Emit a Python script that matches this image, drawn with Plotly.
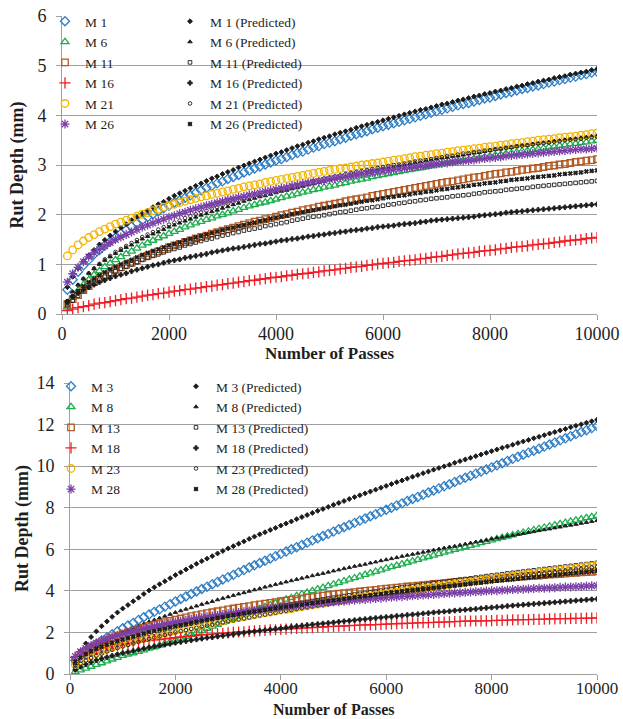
import plotly.graph_objects as go

passes = list(range(100, 10001, 100))

# ---------------- top chart (measured / predicted) ----------------
m1 = [0.49,0.69,0.85,0.98,1.09,1.20,1.29,1.38,1.46,1.54,
      1.62,1.69,1.76,1.83,1.89,1.95,2.01,2.07,2.13,2.18,
      2.24,2.29,2.34,2.39,2.44,2.49,2.54,2.58,2.63,2.67,
      2.72,2.76,2.80,2.85,2.89,2.93,2.97,3.01,3.05,3.09,
      3.12,3.16,3.20,3.24,3.27,3.31,3.35,3.38,3.42,3.45,
      3.48,3.52,3.55,3.59,3.62,3.65,3.68,3.72,3.75,3.78,
      3.81,3.84,3.87,3.90,3.93,3.96,3.99,4.02,4.05,4.08,
      4.11,4.14,4.17,4.20,4.23,4.25,4.28,4.31,4.34,4.36,
      4.39,4.42,4.45,4.47,4.50,4.53,4.55,4.58,4.60,4.63,
      4.66,4.68,4.71,4.73,4.76,4.78,4.81,4.83,4.86,4.88]
m1_p = [0.54,0.75,0.92,1.06,1.18,1.29,1.40,1.49,1.58,1.66,
        1.74,1.81,1.89,1.95,2.02,2.08,2.15,2.21,2.26,2.32,
        2.38,2.43,2.48,2.53,2.58,2.63,2.68,2.73,2.77,2.82,
        2.86,2.90,2.95,2.99,3.03,3.07,3.11,3.15,3.19,3.23,
        3.26,3.30,3.34,3.38,3.41,3.45,3.48,3.52,3.55,3.58,
        3.62,3.65,3.68,3.71,3.75,3.78,3.81,3.84,3.87,3.90,
        3.93,3.96,3.99,4.02,4.05,4.08,4.11,4.13,4.16,4.19,
        4.22,4.24,4.27,4.30,4.32,4.35,4.38,4.40,4.43,4.45,
        4.48,4.50,4.53,4.55,4.58,4.60,4.63,4.65,4.68,4.70,
        4.72,4.75,4.77,4.79,4.82,4.84,4.86,4.88,4.91,4.93]
m6 = [0.14,0.33,0.47,0.59,0.69,0.79,0.87,0.95,1.02,1.09,
      1.15,1.21,1.26,1.32,1.38,1.43,1.48,1.53,1.57,1.62,
      1.66,1.70,1.75,1.79,1.83,1.86,1.90,1.93,1.97,2.00,
      2.03,2.07,2.10,2.14,2.17,2.20,2.23,2.25,2.28,2.31,
      2.34,2.37,2.39,2.42,2.45,2.47,2.50,2.52,2.55,2.57,
      2.59,2.62,2.64,2.67,2.69,2.71,2.73,2.76,2.78,2.80,
      2.82,2.84,2.86,2.88,2.90,2.92,2.94,2.96,2.98,3.00,
      3.02,3.04,3.05,3.07,3.09,3.11,3.13,3.14,3.16,3.18,
      3.20,3.21,3.23,3.24,3.26,3.28,3.29,3.31,3.32,3.34,
      3.36,3.37,3.39,3.40,3.42,3.43,3.45,3.46,3.48,3.49]
m6_p = [0.26,0.45,0.59,0.71,0.82,0.91,1.00,1.08,1.15,1.22,
        1.28,1.34,1.39,1.45,1.51,1.56,1.61,1.65,1.70,1.75,
        1.79,1.83,1.87,1.91,1.95,1.99,2.02,2.06,2.09,2.13,
        2.16,2.20,2.23,2.27,2.30,2.33,2.36,2.38,2.41,2.44,
        2.47,2.49,2.52,2.54,2.57,2.60,2.62,2.65,2.67,2.70,
        2.72,2.74,2.77,2.79,2.81,2.83,2.85,2.88,2.90,2.92,
        2.94,2.96,2.98,3.00,3.02,3.04,3.06,3.08,3.10,3.12,
        3.14,3.15,3.17,3.18,3.20,3.22,3.24,3.25,3.27,3.29,
        3.31,3.32,3.34,3.35,3.37,3.39,3.40,3.42,3.43,3.45,
        3.46,3.48,3.49,3.51,3.52,3.53,3.55,3.56,3.58,3.59]
m11 = [0.20,0.30,0.38,0.48,0.56,0.64,0.71,0.77,0.83,0.89,
       0.94,0.99,1.03,1.08,1.13,1.17,1.21,1.26,1.30,1.34,
       1.38,1.41,1.45,1.48,1.52,1.55,1.58,1.62,1.65,1.68,
       1.71,1.74,1.77,1.80,1.83,1.86,1.88,1.91,1.93,1.96,
       1.99,2.01,2.04,2.06,2.09,2.11,2.13,2.16,2.18,2.20,
       2.22,2.24,2.27,2.29,2.31,2.33,2.35,2.38,2.40,2.42,
       2.44,2.46,2.48,2.50,2.52,2.54,2.56,2.58,2.60,2.62,
       2.64,2.66,2.67,2.69,2.71,2.73,2.75,2.76,2.78,2.80,
       2.82,2.83,2.85,2.86,2.88,2.90,2.91,2.93,2.94,2.96,
       2.98,2.99,3.01,3.02,3.04,3.06,3.07,3.09,3.10,3.12]
m11_p = [0.18,0.27,0.37,0.46,0.55,0.62,0.69,0.75,0.81,0.86,
         0.91,0.95,1.00,1.04,1.09,1.13,1.17,1.20,1.24,1.28,
         1.31,1.34,1.38,1.41,1.44,1.47,1.50,1.52,1.55,1.58,
         1.60,1.63,1.65,1.68,1.70,1.72,1.74,1.77,1.79,1.81,
         1.83,1.85,1.88,1.90,1.92,1.94,1.96,1.97,1.99,2.01,
         2.03,2.05,2.06,2.08,2.10,2.12,2.13,2.15,2.16,2.18,
         2.20,2.21,2.23,2.24,2.26,2.27,2.29,2.30,2.32,2.33,
         2.34,2.35,2.37,2.38,2.39,2.40,2.42,2.43,2.45,2.46,
         2.47,2.48,2.50,2.51,2.52,2.53,2.54,2.56,2.57,2.58,
         2.59,2.60,2.61,2.62,2.63,2.64,2.65,2.66,2.67,2.68]
m16 = [0.07,0.10,0.13,0.15,0.17,0.20,0.22,0.23,0.25,0.27,
       0.29,0.31,0.32,0.34,0.36,0.38,0.39,0.41,0.42,0.44,
       0.46,0.47,0.49,0.50,0.52,0.53,0.55,0.56,0.58,0.59,
       0.61,0.62,0.64,0.65,0.67,0.68,0.70,0.71,0.73,0.74,
       0.75,0.77,0.78,0.80,0.81,0.82,0.84,0.85,0.87,0.88,
       0.89,0.91,0.92,0.94,0.95,0.96,0.98,0.99,1.01,1.02,
       1.03,1.04,1.06,1.07,1.08,1.09,1.11,1.12,1.14,1.15,
       1.16,1.18,1.19,1.21,1.22,1.23,1.24,1.26,1.27,1.28,
       1.29,1.31,1.32,1.34,1.35,1.36,1.37,1.39,1.40,1.41,
       1.42,1.44,1.45,1.47,1.48,1.49,1.50,1.52,1.53,1.54]
m16_p = [0.25,0.35,0.42,0.49,0.54,0.59,0.64,0.68,0.72,0.76,
         0.79,0.82,0.86,0.89,0.92,0.95,0.98,1.00,1.03,1.06,
         1.08,1.10,1.13,1.15,1.17,1.19,1.21,1.24,1.26,1.28,
         1.30,1.32,1.33,1.35,1.37,1.39,1.41,1.42,1.44,1.46,
         1.48,1.49,1.51,1.52,1.54,1.56,1.57,1.59,1.60,1.62,
         1.63,1.65,1.66,1.68,1.69,1.70,1.72,1.73,1.75,1.76,
         1.77,1.78,1.80,1.81,1.82,1.83,1.85,1.86,1.88,1.89,
         1.90,1.91,1.92,1.93,1.94,1.95,1.96,1.98,1.99,2.00,
         2.01,2.02,2.04,2.05,2.06,2.07,2.08,2.09,2.10,2.11,
         2.12,2.13,2.14,2.15,2.16,2.17,2.18,2.19,2.20,2.21]
m21 = [1.17,1.29,1.39,1.47,1.54,1.60,1.66,1.71,1.76,1.81,
       1.85,1.89,1.93,1.97,2.01,2.04,2.08,2.11,2.15,2.18,
       2.21,2.24,2.27,2.30,2.33,2.36,2.38,2.41,2.43,2.46,
       2.48,2.51,2.53,2.56,2.58,2.60,2.62,2.65,2.67,2.69,
       2.71,2.73,2.75,2.77,2.79,2.81,2.83,2.85,2.87,2.89,
       2.91,2.93,2.94,2.96,2.98,3.00,3.01,3.03,3.04,3.06,
       3.08,3.10,3.11,3.13,3.15,3.17,3.18,3.20,3.21,3.23,
       3.24,3.26,3.27,3.29,3.30,3.31,3.33,3.34,3.36,3.37,
       3.38,3.40,3.41,3.43,3.44,3.45,3.47,3.48,3.50,3.51,
       3.52,3.53,3.55,3.56,3.57,3.58,3.60,3.61,3.63,3.64]
m21_p = [0.22,0.42,0.58,0.71,0.82,0.92,1.01,1.10,1.17,1.25,
         1.31,1.37,1.43,1.49,1.55,1.60,1.65,1.70,1.75,1.80,
         1.84,1.88,1.93,1.97,2.01,2.05,2.08,2.12,2.15,2.19,
         2.22,2.25,2.29,2.32,2.35,2.38,2.41,2.44,2.47,2.50,
         2.53,2.55,2.58,2.60,2.63,2.65,2.68,2.70,2.73,2.75,
         2.77,2.79,2.82,2.84,2.86,2.88,2.90,2.92,2.94,2.96,
         2.98,3.00,3.01,3.03,3.05,3.07,3.09,3.10,3.12,3.14,
         3.16,3.18,3.19,3.21,3.23,3.24,3.26,3.27,3.29,3.30,
         3.32,3.33,3.35,3.36,3.38,3.39,3.40,3.42,3.43,3.44,
         3.45,3.47,3.48,3.50,3.51,3.52,3.53,3.55,3.56,3.57]
m26 = [0.64,0.81,0.94,1.05,1.15,1.23,1.30,1.37,1.44,1.50,
       1.55,1.60,1.65,1.70,1.75,1.79,1.83,1.87,1.91,1.95,
       1.98,2.02,2.05,2.09,2.12,2.15,2.18,2.21,2.24,2.27,
       2.30,2.32,2.35,2.37,2.40,2.42,2.44,2.47,2.49,2.51,
       2.53,2.55,2.58,2.60,2.62,2.64,2.66,2.67,2.69,2.71,
       2.73,2.75,2.76,2.78,2.80,2.82,2.83,2.85,2.86,2.88,
       2.89,2.91,2.92,2.94,2.95,2.96,2.98,2.99,3.01,3.02,
       3.03,3.04,3.06,3.07,3.08,3.09,3.10,3.12,3.13,3.14,
       3.15,3.16,3.18,3.19,3.20,3.21,3.22,3.23,3.24,3.25,
       3.26,3.27,3.28,3.29,3.30,3.31,3.32,3.32,3.33,3.34]
m26_p = [0.25,0.35,0.46,0.56,0.64,0.71,0.78,0.84,0.90,0.95,
         1.00,1.05,1.09,1.14,1.19,1.23,1.27,1.30,1.34,1.38,
         1.41,1.44,1.48,1.51,1.54,1.57,1.60,1.63,1.66,1.69,
         1.72,1.74,1.77,1.79,1.82,1.84,1.87,1.89,1.92,1.94,
         1.96,1.98,2.01,2.03,2.05,2.07,2.09,2.11,2.13,2.15,
         2.17,2.19,2.20,2.22,2.24,2.26,2.28,2.29,2.31,2.33,
         2.35,2.36,2.38,2.39,2.41,2.43,2.44,2.46,2.47,2.49,
         2.51,2.52,2.54,2.55,2.57,2.58,2.60,2.61,2.63,2.64,
         2.65,2.67,2.68,2.70,2.71,2.72,2.73,2.75,2.76,2.77,
         2.78,2.79,2.81,2.82,2.83,2.84,2.85,2.87,2.88,2.89]

# ---------------- bottom chart ----------------
m3 = [0.66,0.90,1.10,1.28,1.45,1.61,1.76,1.91,2.06,2.20,
      2.33,2.46,2.60,2.73,2.86,2.99,3.11,3.24,3.36,3.49,
      3.61,3.73,3.85,3.97,4.09,4.20,4.32,4.43,4.55,4.66,
      4.77,4.89,5.00,5.12,5.23,5.34,5.45,5.56,5.67,5.78,
      5.89,6.00,6.10,6.21,6.32,6.43,6.53,6.64,6.74,6.85,
      6.96,7.06,7.17,7.27,7.38,7.48,7.59,7.69,7.80,7.90,
      8.00,8.11,8.21,8.32,8.42,8.52,8.62,8.73,8.83,8.93,
      9.03,9.13,9.24,9.34,9.44,9.54,9.64,9.74,9.84,9.94,
      10.04,10.14,10.25,10.35,10.45,10.55,10.65,10.74,10.84,10.94,
      11.04,11.14,11.24,11.34,11.44,11.54,11.64,11.73,11.83,11.93]
m3_p = [0.63,1.10,1.47,1.78,2.05,2.30,2.53,2.75,2.96,3.15,
        3.32,3.50,3.67,3.85,4.02,4.17,4.32,4.46,4.61,4.76,
        4.89,5.03,5.16,5.30,5.43,5.55,5.67,5.80,5.92,6.04,
        6.15,6.27,6.38,6.50,6.61,6.72,6.82,6.93,7.03,7.14,
        7.24,7.34,7.45,7.55,7.65,7.75,7.85,7.94,8.04,8.14,
        8.23,8.32,8.42,8.51,8.60,8.69,8.78,8.87,8.96,9.05,
        9.14,9.23,9.31,9.40,9.49,9.57,9.66,9.74,9.83,9.91,
        9.99,10.07,10.16,10.24,10.32,10.40,10.48,10.56,10.64,10.72,
        10.80,10.88,10.95,11.03,11.11,11.19,11.26,11.34,11.41,11.49,
        11.57,11.64,11.72,11.79,11.87,11.94,12.01,12.09,12.16,12.23]
m8 = [0.10,0.19,0.27,0.36,0.45,0.53,0.62,0.71,0.79,0.88,
      0.95,1.01,1.08,1.15,1.23,1.30,1.38,1.46,1.54,1.62,
      1.71,1.80,1.90,1.99,2.09,2.19,2.29,2.38,2.48,2.58,
      2.67,2.77,2.86,2.95,3.05,3.14,3.23,3.32,3.41,3.50,
      3.59,3.67,3.76,3.84,3.92,4.00,4.08,4.16,4.24,4.32,
      4.40,4.47,4.55,4.62,4.70,4.78,4.85,4.93,5.00,5.08,
      5.15,5.22,5.29,5.36,5.43,5.50,5.57,5.64,5.71,5.78,
      5.85,5.91,5.98,6.04,6.11,6.18,6.24,6.31,6.37,6.44,
      6.50,6.56,6.62,6.68,6.75,6.81,6.87,6.93,6.99,7.05,
      7.11,7.16,7.22,7.28,7.34,7.39,7.45,7.51,7.56,7.62]
m8_p = [0.50,0.78,1.00,1.18,1.34,1.49,1.63,1.76,1.88,2.00,
        2.10,2.20,2.31,2.41,2.51,2.60,2.69,2.78,2.87,2.96,
        3.04,3.12,3.19,3.27,3.35,3.42,3.49,3.57,3.64,3.71,
        3.78,3.85,3.91,3.98,4.05,4.11,4.18,4.24,4.31,4.37,
        4.43,4.49,4.55,4.61,4.67,4.73,4.79,4.84,4.90,4.96,
        5.01,5.07,5.12,5.18,5.23,5.28,5.34,5.39,5.45,5.50,
        5.55,5.60,5.66,5.71,5.76,5.81,5.86,5.91,5.96,6.01,
        6.06,6.11,6.15,6.20,6.25,6.30,6.35,6.39,6.44,6.49,
        6.54,6.58,6.63,6.67,6.72,6.76,6.81,6.85,6.90,6.94,
        6.98,7.03,7.07,7.12,7.16,7.20,7.25,7.29,7.34,7.38]
m13 = [0.68,0.93,1.12,1.28,1.41,1.53,1.65,1.75,1.84,1.93,
       2.01,2.08,2.16,2.23,2.31,2.37,2.43,2.50,2.56,2.62,
       2.67,2.72,2.78,2.83,2.88,2.93,2.97,3.02,3.06,3.11,
       3.15,3.19,3.23,3.27,3.31,3.35,3.39,3.42,3.46,3.50,
       3.53,3.57,3.60,3.64,3.67,3.70,3.73,3.77,3.80,3.83,
       3.86,3.89,3.91,3.94,3.97,4.00,4.02,4.05,4.08,4.11,
       4.13,4.16,4.18,4.21,4.23,4.25,4.28,4.30,4.33,4.35,
       4.37,4.39,4.42,4.44,4.46,4.48,4.50,4.53,4.55,4.57,
       4.59,4.61,4.63,4.65,4.67,4.69,4.71,4.72,4.74,4.76,
       4.78,4.80,4.81,4.83,4.85,4.87,4.89,4.90,4.92,4.94]
m13_p = [0.46,0.66,0.82,0.96,1.08,1.19,1.29,1.39,1.47,1.56,
         1.63,1.71,1.78,1.86,1.93,1.99,2.06,2.12,2.19,2.25,
         2.31,2.36,2.42,2.47,2.53,2.58,2.63,2.69,2.74,2.79,
         2.84,2.89,2.93,2.98,3.03,3.08,3.12,3.17,3.21,3.26,
         3.30,3.34,3.39,3.43,3.47,3.51,3.55,3.59,3.63,3.67,
         3.71,3.75,3.78,3.82,3.86,3.90,3.94,3.97,4.01,4.05,
         4.09,4.12,4.16,4.19,4.23,4.26,4.30,4.33,4.37,4.40,
         4.43,4.47,4.50,4.54,4.57,4.60,4.64,4.67,4.71,4.74,
         4.77,4.80,4.84,4.87,4.90,4.93,4.96,4.99,5.02,5.05,
         5.08,5.11,5.14,5.17,5.20,5.23,5.26,5.29,5.32,5.35]
m18 = [0.80,0.93,1.02,1.10,1.17,1.23,1.29,1.34,1.38,1.43,
       1.47,1.50,1.54,1.57,1.61,1.64,1.66,1.69,1.72,1.75,
       1.78,1.80,1.83,1.85,1.88,1.90,1.92,1.94,1.96,1.98,
       2.00,2.02,2.03,2.05,2.07,2.09,2.10,2.12,2.13,2.15,
       2.16,2.18,2.19,2.21,2.22,2.23,2.25,2.26,2.28,2.29,
       2.30,2.31,2.33,2.34,2.35,2.36,2.37,2.38,2.39,2.40,
       2.41,2.42,2.43,2.44,2.45,2.46,2.47,2.47,2.48,2.49,
       2.50,2.51,2.52,2.53,2.54,2.55,2.55,2.56,2.56,2.57,
       2.58,2.58,2.59,2.60,2.61,2.62,2.62,2.63,2.63,2.64,
       2.65,2.65,2.66,2.66,2.67,2.68,2.68,2.69,2.69,2.70]
m18_p = [0.20,0.35,0.47,0.57,0.66,0.74,0.81,0.88,0.95,1.01,
         1.06,1.11,1.17,1.22,1.27,1.32,1.36,1.41,1.45,1.50,
         1.54,1.58,1.62,1.66,1.70,1.74,1.77,1.81,1.84,1.88,
         1.91,1.95,1.98,2.02,2.05,2.08,2.11,2.14,2.17,2.20,
         2.23,2.26,2.29,2.32,2.35,2.38,2.40,2.43,2.45,2.48,
         2.51,2.54,2.56,2.59,2.62,2.64,2.67,2.69,2.72,2.74,
         2.76,2.79,2.81,2.84,2.86,2.88,2.91,2.93,2.96,2.98,
         3.00,3.02,3.05,3.07,3.09,3.11,3.13,3.16,3.18,3.20,
         3.22,3.24,3.27,3.29,3.31,3.33,3.35,3.37,3.39,3.41,
         3.43,3.45,3.47,3.49,3.51,3.53,3.55,3.57,3.59,3.61]
m23 = [0.45,0.63,0.77,0.90,1.00,1.10,1.20,1.28,1.36,1.44,
       1.51,1.58,1.65,1.72,1.79,1.85,1.91,1.97,2.03,2.09,
       2.14,2.20,2.25,2.31,2.36,2.41,2.46,2.51,2.56,2.61,
       2.66,2.71,2.75,2.80,2.85,2.89,2.94,2.98,3.03,3.07,
       3.11,3.15,3.20,3.24,3.28,3.32,3.36,3.40,3.44,3.48,
       3.52,3.56,3.60,3.64,3.68,3.72,3.76,3.79,3.83,3.87,
       3.91,3.94,3.98,4.01,4.05,4.09,4.12,4.16,4.19,4.23,
       4.26,4.30,4.33,4.37,4.40,4.43,4.47,4.50,4.54,4.57,
       4.60,4.64,4.67,4.71,4.74,4.77,4.80,4.84,4.87,4.90,
       4.93,4.96,5.00,5.03,5.06,5.09,5.12,5.16,5.19,5.22]
m23_p = [0.30,0.49,0.64,0.77,0.88,0.98,1.08,1.17,1.25,1.33,
         1.40,1.47,1.55,1.62,1.69,1.75,1.81,1.88,1.94,2.00,
         2.06,2.11,2.17,2.22,2.28,2.33,2.38,2.43,2.48,2.53,
         2.58,2.63,2.67,2.72,2.77,2.82,2.86,2.91,2.95,3.00,
         3.04,3.08,3.13,3.17,3.21,3.25,3.29,3.33,3.37,3.41,
         3.45,3.49,3.53,3.57,3.61,3.65,3.69,3.72,3.76,3.80,
         3.84,3.87,3.91,3.94,3.98,4.02,4.05,4.09,4.12,4.16,
         4.20,4.23,4.27,4.30,4.34,4.37,4.41,4.44,4.48,4.51,
         4.54,4.57,4.61,4.64,4.67,4.70,4.74,4.77,4.81,4.84,
         4.87,4.90,4.93,4.96,4.99,5.02,5.05,5.09,5.12,5.15]
m28 = [0.85,1.07,1.23,1.37,1.49,1.59,1.69,1.77,1.85,1.93,
       1.99,2.06,2.12,2.19,2.25,2.30,2.35,2.40,2.45,2.50,
       2.54,2.58,2.63,2.67,2.71,2.75,2.79,2.82,2.86,2.90,
       2.93,2.96,3.00,3.03,3.06,3.09,3.12,3.15,3.18,3.21,
       3.24,3.26,3.29,3.31,3.34,3.36,3.39,3.41,3.44,3.46,
       3.48,3.50,3.53,3.55,3.57,3.59,3.61,3.63,3.65,3.67,
       3.69,3.71,3.72,3.74,3.76,3.78,3.80,3.81,3.83,3.85,
       3.87,3.88,3.90,3.91,3.93,3.94,3.96,3.97,3.99,4.00,
       4.01,4.03,4.04,4.06,4.07,4.08,4.09,4.11,4.12,4.13,
       4.14,4.15,4.17,4.18,4.19,4.20,4.21,4.23,4.24,4.25]
m28_p = [0.60,0.80,0.96,1.09,1.21,1.31,1.41,1.50,1.58,1.66,
         1.73,1.80,1.87,1.94,2.01,2.07,2.13,2.18,2.24,2.30,
         2.35,2.40,2.46,2.51,2.56,2.61,2.65,2.70,2.74,2.79,
         2.83,2.87,2.92,2.96,3.00,3.04,3.08,3.12,3.16,3.20,
         3.24,3.27,3.31,3.34,3.38,3.41,3.45,3.48,3.52,3.55,
         3.58,3.62,3.65,3.69,3.72,3.75,3.78,3.82,3.85,3.88,
         3.91,3.94,3.97,4.00,4.03,4.06,4.09,4.11,4.14,4.17,
         4.20,4.23,4.25,4.28,4.31,4.34,4.37,4.39,4.42,4.45,
         4.48,4.50,4.53,4.55,4.58,4.61,4.63,4.66,4.68,4.71,
         4.73,4.76,4.78,4.81,4.83,4.85,4.88,4.90,4.93,4.95]

top_names = ["M 1", "M 6", "M 11", "M 16", "M 21", "M 26"]
bot_names = ["M 3", "M 8", "M 13", "M 18", "M 23", "M 28"]
top_meas = [m1, m6, m11, m16, m21, m26]
top_pred = [m1_p, m6_p, m11_p, m16_p, m21_p, m26_p]
bot_meas = [m3, m8, m13, m18, m23, m28]
bot_pred = [m3_p, m8_p, m13_p, m18_p, m23_p, m28_p]
x_title = "Number of Passes"
y_title = "Rut Depth (mm)"

colors = ["#2f7fc6", "#1fae4f", "#b35a22", "#ee1c25", "#f4b400", "#7b3fa8"]
meas_sym = ["diamond-open", "triangle-up-open", "square-open",
            "cross-thin-open", "circle-open", "asterisk-open"]
meas_size = [7, 7, 6.5, 8, 7.5, 7.5]
pred_sym = ["diamond", "triangle-up", "square-open", "cross", "circle-open", "x"]
pred_size = [3.8, 4, 3.6, 3.8, 3.6, 3.8]
black = "#1c1c1c"

fig = go.Figure()


def add_group(names, meas, pred, xa, ya, leg_m, leg_p):
    for i, nm in enumerate(names):
        fig.add_trace(go.Scatter(
            x=passes, y=meas[i], mode="markers", name=nm,
            xaxis=xa, yaxis=ya, legend=leg_m,
            marker=dict(symbol=meas_sym[i], size=meas_size[i], color=colors[i],
                        line=dict(color=colors[i], width=1.3))))
        fig.add_trace(go.Scatter(
            x=passes, y=pred[i], mode="markers", name=nm + " (Predicted)",
            xaxis=xa, yaxis=ya, legend=leg_p,
            marker=dict(symbol=pred_sym[i], size=pred_size[i], color=black,
                        line=dict(color=black, width=0.9))))


add_group(top_names, top_meas, top_pred, "x", "y", "legend", "legend2")
add_group(bot_names, bot_meas, bot_pred, "x2", "y2", "legend3", "legend4")

W, H = 623, 719
serif = "Liberation Serif"
tickfont = dict(family=serif, size=18, color="#1e1e1e")
titlefont = dict(family=serif, size=18, color="#1e1e1e")
axcol = "#a0a0a0"


def xa(dom, anchor, standoff, fsize):
    return dict(domain=dom, anchor=anchor, range=[0, 10000], tick0=0, dtick=2000,
                tickformat="d", showgrid=False, zeroline=False, showline=True,
                linecolor=axcol, linewidth=1, ticks="outside", ticklen=5,
                tickcolor=axcol, tickfont=dict(family=serif, size=fsize, color="#1e1e1e"),
                ticklabelstandoff=standoff, automargin=False)


def ya(dom, anchor, rng, dt, standoff):
    return dict(domain=dom, anchor=anchor, range=rng, dtick=dt, showgrid=True,
                gridcolor=axcol, gridwidth=1, zeroline=False, showline=True,
                linecolor=axcol, linewidth=1, ticks="outside", ticklen=5,
                tickcolor=axcol, tickfont=tickfont, ticklabelstandoff=6,
                automargin=False,
                title=dict(text="<b>" + y_title + "</b>", font=titlefont, standoff=standoff))


def leg(xpx, ypx):
    return dict(x=xpx / W, y=1 - ypx / H, xanchor="left", yanchor="top",
                bgcolor="rgba(0,0,0,0)", borderwidth=0,
                font=dict(family=serif, size=13.5, color="#1e1e1e"),
                itemwidth=30, tracegroupgap=0)


def xtitle(xdom, ypx, anchor, size):
    return dict(text="<b>" + x_title + "</b>", xref="paper", yref="paper",
                x=(xdom[0] + xdom[1]) / 2, y=1 - ypx / H, xanchor="center",
                yanchor=anchor, showarrow=False, borderpad=0,
                font=dict(family=serif, size=size, color="#1e1e1e"))


top_xdom = [62 / W, 597 / W]
bot_xdom = [70 / W, 597 / W]

fig.update_layout(
    width=W, height=H, margin=dict(l=0, r=0, t=0, b=0, autoexpand=False),
    paper_bgcolor="white", plot_bgcolor="white", showlegend=True,
    xaxis=xa(top_xdom, "y", -2, 18),
    yaxis=ya([1 - 314 / H, 1 - 16 / H], "x", [0, 6], 1, 9),
    xaxis2=xa(bot_xdom, "y2", -6, 17),
    yaxis2=ya([1 - 674 / H, 1 - 383 / H], "x2", [0, 14], 2, 3),
    legend=leg(45, 6),
    legend2=leg(170, 6),
    legend3=leg(51, 371),
    legend4=leg(176, 371),
    annotations=[xtitle(top_xdom, 354, "middle", 17),
                 xtitle(bot_xdom, 719, "bottom", 16)],
)

fig.write_html("out.html")
